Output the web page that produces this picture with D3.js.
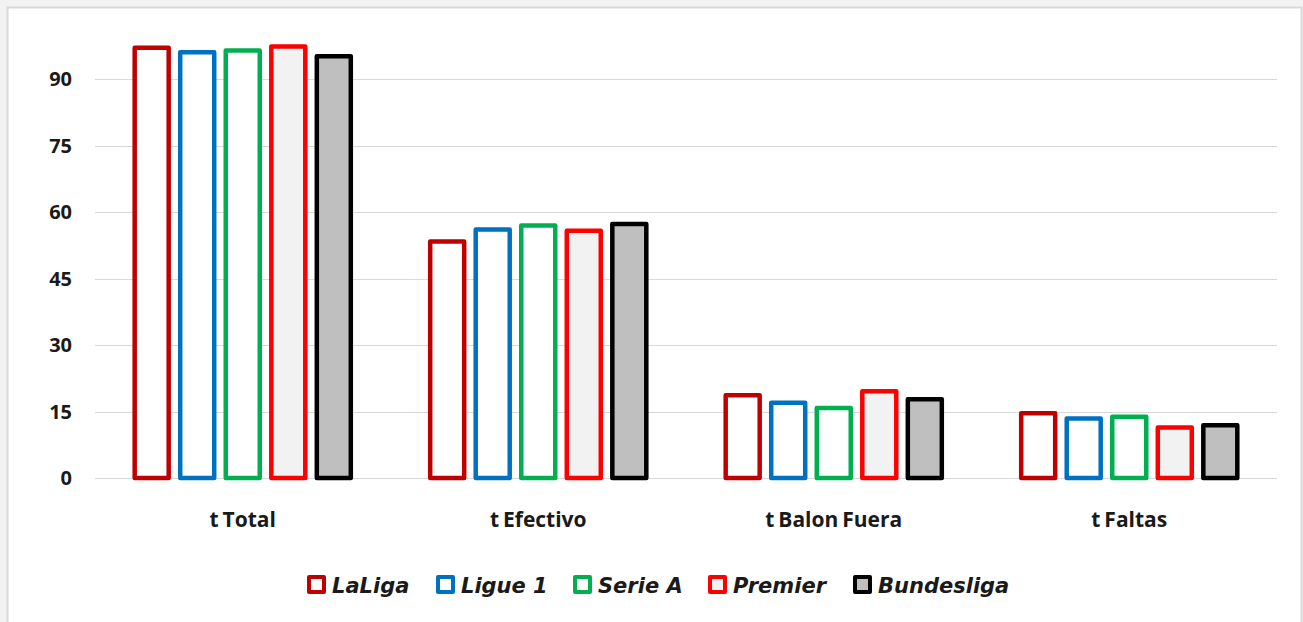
<!DOCTYPE html>
<html lang="es">
<head>
<meta charset="UTF-8">
<title>Tiempos por liga</title>
<script src="https://cdnjs.cloudflare.com/ajax/libs/d3/7.8.5/d3.min.js"></script>
<style>
  body { margin: 0; background: #f2f2f2; font-family: 'Open Sans', 'Noto Sans', sans-serif; }
  svg { display: block; }
</style>
</head>
<body>
<div id="chart"></div>
<script>
// data
const categories = ["t Total", "t Efectivo", "t Balon Fuera", "t Faltas"];
const leagues = ["LaLiga", "Ligue 1", "Serie A", "Premier", "Bundesliga"];
const laliga     = [97.1, 53.4, 18.7, 14.6];
const ligue1     = [96.1, 56.1, 17.0, 13.4];
const serieA     = [96.5, 57.0, 15.8, 13.8];
const premier    = [97.4, 55.8, 19.6, 11.4];
const bundesliga = [95.2, 57.3, 17.8, 11.9];
const yTicks = [0, 15, 30, 45, 60, 75, 90];

const seriesValues = [laliga, ligue1, serieA, premier, bundesliga];
const strokes = ["#C00000", "#0070C0", "#00B050", "#FF0000", "#000000"];
const fills   = ["#FFFFFF", "#FFFFFF", "#FFFFFF", "#F2F2F2", "#BFBFBF"];

const W = 1303, H = 622;
const svg = d3.select("#chart").append("svg").attr("width", W).attr("height", H);

// card
svg.append("rect").attr("x", 7.5).attr("y", 7.5).attr("width", 1294).attr("height", 630)
  .attr("fill", "#fff").attr("stroke", "#d9d9d9").attr("stroke-width", 2);

const plotLeft = 95, plotRight = 1277, plotTop = 34, plotBottom = 478;

const x0 = d3.scaleBand().domain(categories).range([plotLeft, plotRight]);
const x1 = d3.scaleBand().domain(leagues).range([0, x0.bandwidth()]).paddingOuter(0.745);
const y = d3.scaleLinear().domain([0, 100.2]).range([plotBottom, plotTop]);

// gridlines
svg.append("g").selectAll("line").data(yTicks).join("line")
  .attr("x1", plotLeft).attr("x2", plotRight)
  .attr("y1", d => Math.round(y(d)) + 0.5).attr("y2", d => Math.round(y(d)) + 0.5)
  .attr("stroke", "#d9d9d9").attr("stroke-width", 1);

// y labels
svg.append("g").selectAll("text").data(yTicks).join("text")
  .attr("x", 72).attr("y", d => y(d)).attr("dy", "0.36em")
  .attr("text-anchor", "end").attr("font-size", 20).attr("font-weight", "bold")
  .attr("fill", "#1a1a1a").text(d => d);

// bars
const barW = 34;
const groups = svg.append("g").selectAll("g").data(categories).join("g")
  .attr("transform", d => `translate(${x0(d)},0)`);

groups.selectAll("rect")
  .data((c, ci) => leagues.map((l, li) => ({ league: l, li, value: seriesValues[li][ci] })))
  .join("rect")
  .attr("x", d => x1(d.league) + (x1.bandwidth() - barW) / 2)
  .attr("y", d => y(d.value))
  .attr("width", barW)
  .attr("height", d => plotBottom - y(d.value))
  .attr("fill", d => fills[d.li])
  .attr("stroke", d => strokes[d.li])
  .attr("stroke-width", 4.5)
  .attr("stroke-linejoin", "round");

// category labels
svg.append("g").selectAll("text").data(categories).join("text")
  .attr("x", d => x0(d) + x0.bandwidth() / 2).attr("y", 527)
  .attr("text-anchor", "middle").attr("font-size", 21).attr("font-weight", "bold")
  .attr("word-spacing", -1.5)
  .attr("fill", "#1a1a1a").text(d => d);

// legend
const legendX = [307, 436, 573, 708, 853];
const legend = svg.append("g").selectAll("g").data(leagues).join("g")
  .attr("transform", (d, i) => `translate(${legendX[i]},575)`);
legend.append("rect").attr("x", 2).attr("y", 2).attr("width", 15).attr("height", 15)
  .attr("fill", (d, i) => fills[i]).attr("stroke", (d, i) => strokes[i])
  .attr("stroke-width", 4).attr("stroke-linejoin", "round");
legend.append("text").attr("x", 25).attr("y", 10).attr("dy", "0.36em")
  .attr("font-family", "'DejaVu Sans', sans-serif")
  .attr("font-size", 21).attr("font-weight", "bold").attr("font-style", "italic")
  .attr("fill", "#1a1a1a").text(d => d);
</script>
</body>
</html>
